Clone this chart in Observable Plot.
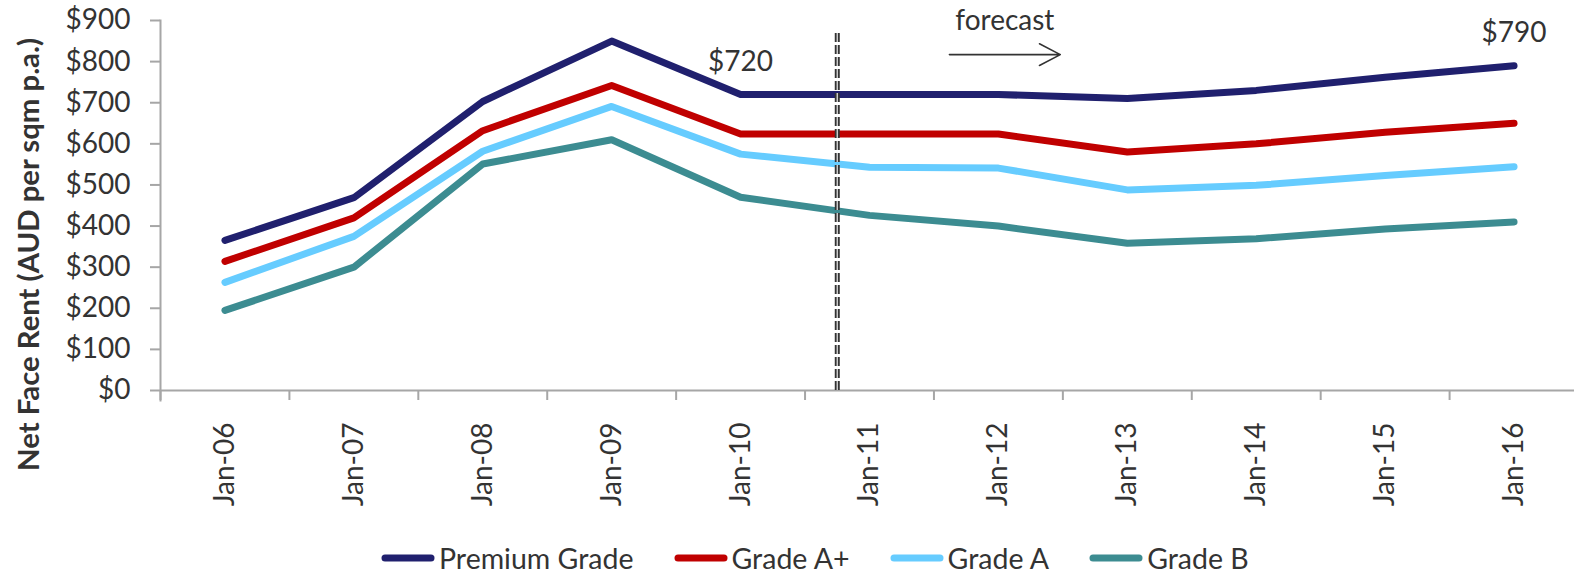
<!DOCTYPE html>
<html>
<head>
<meta charset="utf-8">
<script src="https://cdn.jsdelivr.net/npm/d3@7"></script>
<script src="https://cdn.jsdelivr.net/npm/@observablehq/plot@0.6"></script>
<style>
  html, body { margin: 0; padding: 0; background: #fff; }
  body { width: 1574px; height: 573px; overflow: hidden; font-family: Lato, "Open Sans", sans-serif; color: #333; }
  #legend { display: flex; align-items: center; height: 34px; padding: 21px 0 0 381px; font-size: 28.5px; line-height: 34px; }
  .item { display: flex; align-items: center; margin-right: 40px; }
  .item svg { margin-right: 4px; }
</style>
</head>
<body>
<div id="chart"></div>
<div id="legend"></div>
<script>
// Yearly snapshots (January of each year), Jan-11 onwards are forecasts
const years = [2006, 2007, 2008, 2009, 2010, 2011, 2012, 2013, 2014, 2015, 2016];
const yearLabels = ["Jan-06", "Jan-07", "Jan-08", "Jan-09", "Jan-10", "Jan-11", "Jan-12", "Jan-13", "Jan-14", "Jan-15", "Jan-16"];

// Net face rent, AUD per sqm p.a.
const premiumGrade = [365, 469, 703, 850, 720, 720, 720, 710, 730, 762, 790];
const gradeAPlus   = [314, 420, 632, 742, 624, 624, 624, 580, 600, 628, 650];
const gradeA       = [263, 375, 582, 691, 575, 543, 541, 488, 499, 523, 544];
const gradeB       = [195, 300, 551, 610, 470, 426, 400, 358, 369, 393, 410];

const seriesNames  = ["Premium Grade", "Grade A+", "Grade A", "Grade B"];
const seriesColors = ["#20206e", "#c00000", "#66ccff", "#3c8c91"];
const seriesValues = [premiumGrade, gradeAPlus, gradeA, gradeB];

const yTicks = [0, 100, 200, 300, 400, 500, 600, 700, 800, 900];
const yTitle = "Net Face Rent (AUD per sqm p.a.)";

// Start of the forecast period and its annotation
const forecastStart = 2010.75;
const forecastTop = 875;
const forecastNote = [{x: 2012.05, y: 878, text: "forecast"}];
const forecastArrow = [{x1: 2011.62, x2: 2012.48, y: 817}];

// Premium grade values called out on the chart
const calloutYears = [2010, 2016];

const rows = seriesNames.flatMap((name, s) =>
  years.map((year, i) => ({year, value: seriesValues[s][i], series: name}))
);
const callouts = calloutYears.map(yr => ({year: yr, value: premiumGrade[years.indexOf(yr)]}));
// band edges between years carry the axis tick marks
const yearEdges = years.map(y => y - 0.5);

const axisColor = "#a6a6a6";
const textColor = "#333";

const chart = Plot.plot({
  width: 1574,
  height: 520,
  marginTop: 20,
  marginBottom: 130,
  marginLeft: 160,
  marginRight: 0,
  style: {fontFamily: "Lato, 'Open Sans', sans-serif", fontSize: "28px", color: textColor, background: "#fff", overflow: "visible"},
  x: {type: "linear", domain: [2005.5, 2016.5], range: [160, 1578]},
  y: {domain: [0, 900], range: [390, 20]},
  color: {domain: seriesNames, range: seriesColors},
  marks: [
    Plot.ruleY([0], {stroke: axisColor, strokeWidth: 2}),
    Plot.frame({anchor: "left", stroke: axisColor, strokeWidth: 2, insetBottom: -10}),
    Plot.axisY({ticks: yTicks, tickSize: 10, tickPadding: 20, tickFormat: d => "$" + d,
                stroke: axisColor, strokeWidth: 2, fill: textColor, label: null}),
    Plot.axisX({ticks: yearEdges, tickSize: 10, tickFormat: () => "",
                stroke: axisColor, strokeWidth: 2, label: null}),
    Plot.axisX({ticks: years, tickSize: 0, tickPadding: 32, tickRotate: -90,
                tickFormat: d => yearLabels[years.indexOf(d)], fill: textColor, label: null}),
    Plot.line(rows, {x: "year", y: "value", z: "series", stroke: "series",
                     strokeWidth: 7, strokeLinecap: "round"}),
    Plot.ruleX([forecastStart], {y1: 0, y2: forecastTop, stroke: "#333", strokeWidth: 5, strokeDasharray: "9,3"}),
    Plot.ruleX([forecastStart], {y1: 0, y2: forecastTop, stroke: "#d0d0d0", strokeWidth: 1.4, strokeDasharray: "9,3"}),
    Plot.text(callouts, {x: "year", y: "value", text: d => "$" + d.value, lineAnchor: "bottom", dy: -24, fill: textColor}),
    Plot.text(forecastNote, {x: "x", y: "y", text: "text", lineAnchor: "bottom", fill: textColor}),
    Plot.arrow(forecastArrow, {x1: "x1", x2: "x2", y1: "y", y2: "y", stroke: "#333", strokeWidth: 1.6,
                               headLength: 22, headAngle: 55}),
    Plot.text([yTitle], {frameAnchor: "left", textAnchor: "middle", rotate: -90, dx: -131, dy: 49,
                         fontWeight: "bold", fontSize: 29.3, fill: textColor})
  ]
});
document.getElementById("chart").appendChild(chart);

// Legend below the chart
const legend = document.getElementById("legend");
seriesNames.forEach((name, i) => {
  const item = document.createElement("div");
  item.className = "item";
  item.innerHTML = `<svg width="54" height="12"><line x1="4" y1="6" x2="50" y2="6" stroke="${seriesColors[i]}" stroke-width="7" stroke-linecap="round"/></svg><span>${name}</span>`;
  legend.appendChild(item);
});
</script>
</body>
</html>
